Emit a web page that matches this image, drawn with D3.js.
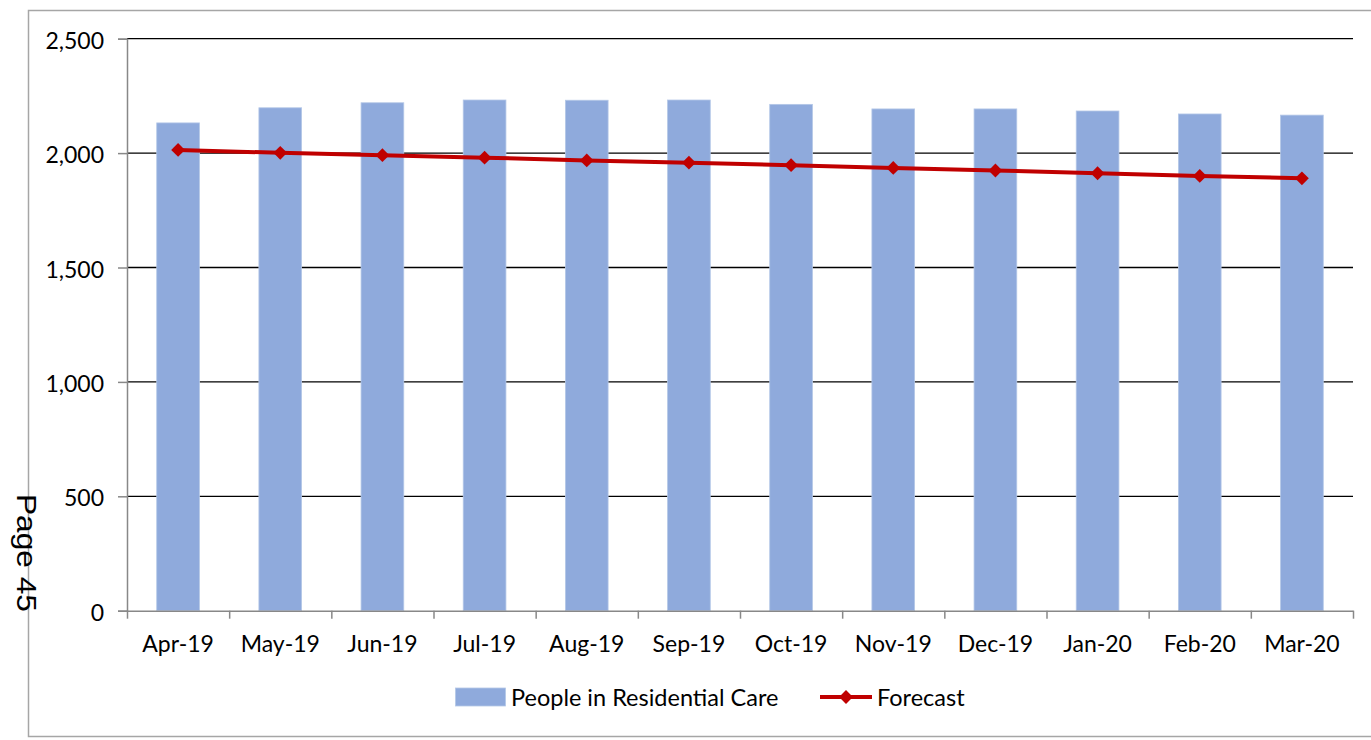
<!DOCTYPE html>
<html>
<head>
<meta charset="utf-8">
<script src="https://cdn.jsdelivr.net/npm/d3@7/dist/d3.min.js"></script>
<style>
  html, body { margin: 0; padding: 0; background: #ffffff; }
  svg { display: block; }
  text { font-family: Lato, "Open Sans", sans-serif; fill: #000; }
</style>
</head>
<body>
<svg id="chart" width="1371" height="740"></svg>
<script>
// Monthly categories
const months = ["Apr-19", "May-19", "Jun-19", "Jul-19", "Aug-19", "Sep-19",
                "Oct-19", "Nov-19", "Dec-19", "Jan-20", "Feb-20", "Mar-20"];
// Actual number of people in residential care
const residential = [2132, 2198, 2220, 2232, 2231, 2232, 2213, 2193, 2193, 2184, 2171, 2166];
// Forecast trajectory
const forecast = [2014, 2001, 1991, 1980, 1968, 1958, 1947, 1935, 1924, 1912, 1900, 1890];
// Value axis ticks
const yTicks = [0, 500, 1000, 1500, 2000, 2500];
const seriesNames = ["People in Residential Care", "Forecast"];

const barColor = "#8faadc";
const lineColor = "#c00000";
const axisGrey = "#888888";
const fontSize = 23;

const svg = d3.select("#chart");

const plot = { left: 127, right: 1353, top: 38.7, bottom: 610.7 };

const y = d3.scaleLinear().domain([0, 2500]).range([plot.bottom, plot.top]);
const x = d3.scaleBand().domain(months).range([plot.left, plot.right])
  .paddingInner(0.582).paddingOuter(0.291);
const xEdge = d3.scaleLinear().domain([0, months.length]).range([plot.left, plot.right]);

// Chart area frame
svg.append("rect")
  .attr("x", 28.5).attr("y", 10.5)
  .attr("width", 1400).attr("height", 726)
  .attr("fill", "none").attr("stroke", "#a6a6a6").attr("stroke-width", 1.5);

// Horizontal gridlines
svg.append("g").selectAll("line")
  .data(yTicks.filter(d => d > 0))
  .join("line")
  .attr("x1", plot.left).attr("x2", plot.right)
  .attr("y1", d => y(d)).attr("y2", d => y(d))
  .attr("stroke", "#000").attr("stroke-width", 1.3);

// Bars
svg.append("g").selectAll("rect")
  .data(months)
  .join("rect")
  .attr("x", d => x(d))
  .attr("width", x.bandwidth())
  .attr("y", (d, i) => y(residential[i]))
  .attr("height", (d, i) => y(0) - y(residential[i]))
  .attr("fill", barColor)
  .attr("stroke", "#b4c7e7").attr("stroke-width", 0.8);

// Value axis
const yAxis = svg.append("g")
  .attr("transform", `translate(${plot.left},0)`)
  .call(d3.axisLeft(y).tickValues(yTicks).tickSize(9).tickPadding(14)
    .tickFormat(d3.format(",")));
yAxis.select(".domain").attr("stroke", axisGrey).attr("stroke-width", 1.5);
yAxis.selectAll(".tick line").attr("stroke", axisGrey).attr("stroke-width", 1.5);
yAxis.selectAll(".tick text")
  .attr("font-size", fontSize).attr("dy", "0.42em")
  .style("font-family", "Lato, sans-serif").attr("fill", "#000");

// Category axis: boundary ticks
const xTickAxis = svg.append("g")
  .attr("transform", `translate(0,${plot.bottom})`)
  .call(d3.axisBottom(xEdge).tickValues(d3.range(months.length + 1))
    .tickSize(8).tickSizeOuter(0).tickFormat(""));
xTickAxis.select(".domain").attr("stroke", axisGrey).attr("stroke-width", 1.5);
xTickAxis.selectAll(".tick line").attr("stroke", axisGrey).attr("stroke-width", 1.5);

// Category labels
const xLabelAxis = svg.append("g")
  .attr("transform", `translate(0,${plot.bottom})`)
  .call(d3.axisBottom(x).tickSize(0).tickPadding(25));
xLabelAxis.select(".domain").remove();
xLabelAxis.selectAll(".tick text")
  .attr("font-size", fontSize).attr("dy", "0.71em")
  .style("font-family", "Lato, sans-serif").attr("fill", "#000");

// Forecast line
const cx = d => x(d) + x.bandwidth() / 2;
svg.append("path")
  .datum(months)
  .attr("fill", "none")
  .attr("stroke", lineColor)
  .attr("stroke-width", 4)
  .attr("stroke-linejoin", "round")
  .attr("d", d3.line().x(d => cx(d)).y((d, i) => y(forecast[i])));

const diamond = d3.symbol().type(d3.symbolSquare).size(95);
svg.append("g").selectAll("path")
  .data(months)
  .join("path")
  .attr("d", diamond)
  .attr("transform", (d, i) => `translate(${cx(d)},${y(forecast[i])}) rotate(45)`)
  .attr("fill", lineColor);

// Legend
const legend = svg.append("g");
legend.append("rect")
  .attr("x", 455.5).attr("y", 688).attr("width", 50).attr("height", 18)
  .attr("fill", barColor).attr("stroke", "#b4c7e7").attr("stroke-width", 0.8);
legend.append("text")
  .attr("x", 511).attr("y", 705.5).attr("font-size", fontSize + 0.5)
  .text(seriesNames[0]);
legend.append("line")
  .attr("x1", 820).attr("x2", 872).attr("y1", 697).attr("y2", 697)
  .attr("stroke", lineColor).attr("stroke-width", 4);
legend.append("path")
  .attr("d", diamond)
  .attr("transform", "translate(846,697) rotate(45)")
  .attr("fill", lineColor);
legend.append("text")
  .attr("x", 877).attr("y", 705.5).attr("font-size", fontSize + 0.5)
  .text(seriesNames[1]);

// Page number printed along the left edge
svg.append("text")
  .attr("transform", "translate(17,494) rotate(90)")
  .attr("font-size", 28)
  .attr("textLength", 118).attr("lengthAdjust", "spacingAndGlyphs")
  .style("font-family", "'Liberation Sans', Arial, sans-serif")
  .text("Page 45");
</script>
</body>
</html>
